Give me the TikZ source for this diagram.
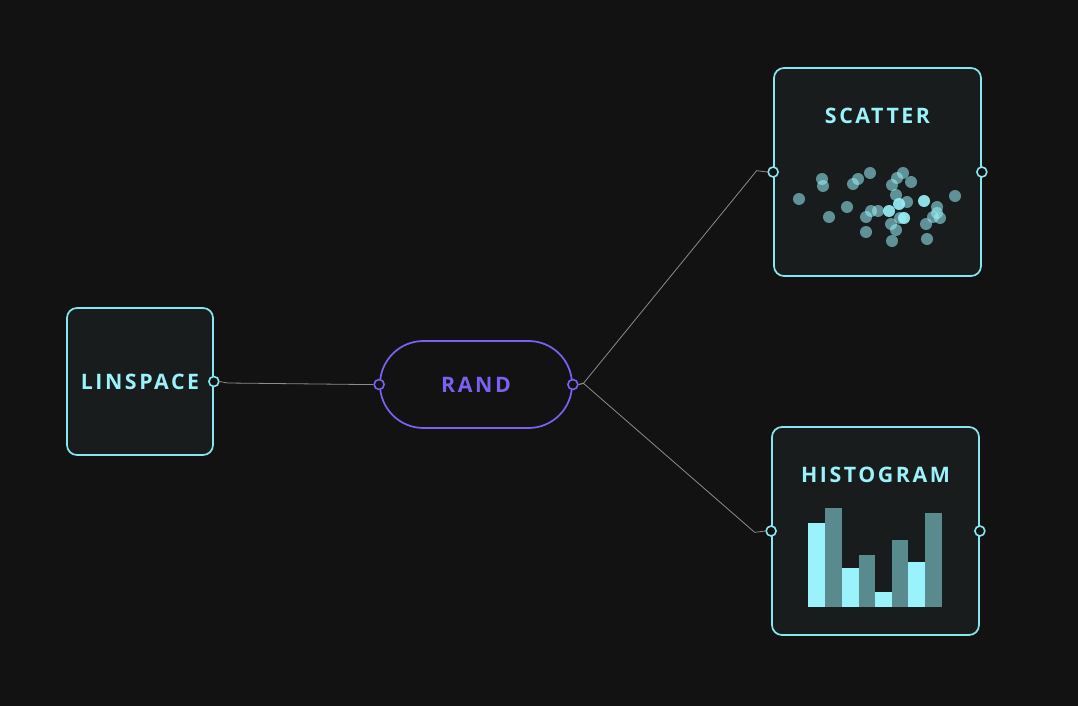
\documentclass[tikz,border=0pt]{standalone}
\usepackage{fontspec}
\setmainfont{Open Sans}
\newfontfamily\titlefont{Open Sans}[LetterSpace=12]
\usepackage{tikz}
\usetikzlibrary{shapes,arrows}

\definecolor{bgdark}{RGB}{18,18,18}
\definecolor{boxfill}{RGB}{25,28,29}
\definecolor{cyanline}{RGB}{137,229,238}
\definecolor{cyantext}{RGB}{154,242,250}
\definecolor{tealbar}{RGB}{88,138,142}
\definecolor{randpurple}{RGB}{124,96,242}
\definecolor{wiregray}{RGB}{140,140,140}

\begin{document}
\begin{tikzpicture}[x=0.75pt,y=0.75pt,yscale=-1,xscale=1,
    card/.style={draw=cyanline,fill=boxfill,line width=1.3pt,rounded corners=7.5pt,inner sep=0pt},
    port/.style={circle,draw=cyanline,fill=bgdark,line width=1.2pt,minimum size=7.5pt,inner sep=0pt},
    title/.style={text=cyantext,font=\titlefont\bfseries\fontsize{16}{18}\selectfont,inner sep=0.75pt},
    wire/.style={draw=wiregray,line width=0.6pt}]
    %set diagram canvas 1078 x 706
    \fill[bgdark] (0,0) rectangle (1078,706);
    \useasboundingbox (0,0) rectangle (1078,706);

    %Rounded Rect: linspace
    \node[card,minimum width=109.5pt,minimum height=110.25pt] (linspace) at (140,381.5) {};
    %Stadium: rand
    \node[draw=randpurple,line width=1.3pt,rounded corners=32.6pt,minimum width=144pt,minimum height=65.25pt,inner sep=0pt] (rand) at (476,384.5) {};
    %Rounded Rect: scatter
    \node[card,minimum width=155.25pt,minimum height=156pt] (scatter) at (877.5,172) {};
    %Rounded Rect: histogram
    \node[card,minimum width=155.25pt,minimum height=156pt] (histogram) at (875.5,531) {};

    %Histogram bars
    \foreach \x/\top/\col in {808/523/cyantext,825/508/tealbar,842/568/cyantext,858.5/555/tealbar,875/592/cyantext,891.5/540/tealbar,908/562/cyantext,925/513/tealbar}
        \fill[\col] (\x,606.5) rectangle ++(16.6,\top-606.5);

    %Scatter dots
    \foreach \px/\py in {799/199,822/179,823/186,829/217,847/207,853/184,858/179,870/173,866/232,866/217,871/211,878/211,892/241,891/224,896/230,892/185,897/178,903/173,911/182,896/195,907/202,900/218,927/239,926/224,933/217,937/207,940/218,937/213,955/196}
        \fill[cyantext,fill opacity=0.55] (\px,\py) circle (4.5pt);
    \foreach \px/\py in {889/211,899/204,904/218,924/201}
        \fill[cyantext,fill opacity=0.9] (\px,\py) circle (4.5pt);

    % Text Node
    \node[title] (linspacelbl) at (140,381.5) {LINSPACE};
    % Text Node
    \node[title,text=randpurple] (randlbl) at (476,384.5) {RAND};
    % Text Node
    \node[title] (scatterlbl) at (877.5,116) {SCATTER};
    % Text Node
    \node[title] (histogramlbl) at (875.5,475) {HISTOGRAM};

    %Ports
    \node[port] (linout) at (linspace.east) {};
    \node[port,draw=randpurple] (randin) at (rand.west) {};
    \node[port,draw=randpurple] (randout) at (rand.east) {};
    \node[port] (scatin) at (scatter.west) {};
    \node[port] (scatout) at (scatter.east) {};
    \node[port] (histin) at (histogram.west) {};
    \node[port] (histout) at (histogram.east) {};

    %Wires
    \draw[wire] (linout.east) -- ++(8,1.5) -- ([xshift=-8]randin.west) -- (randin.west);
    \draw[wire] (randout.east) -- ++(5,-1.5) -- ([xshift=-8,yshift=-1]scatin.west) -- (scatin.west);
    \draw[wire] (randout.east) -- ++(5,-1) -- ([xshift=-8,yshift=1]histin.west) -- (histin.west);
\end{tikzpicture}
\end{document}
